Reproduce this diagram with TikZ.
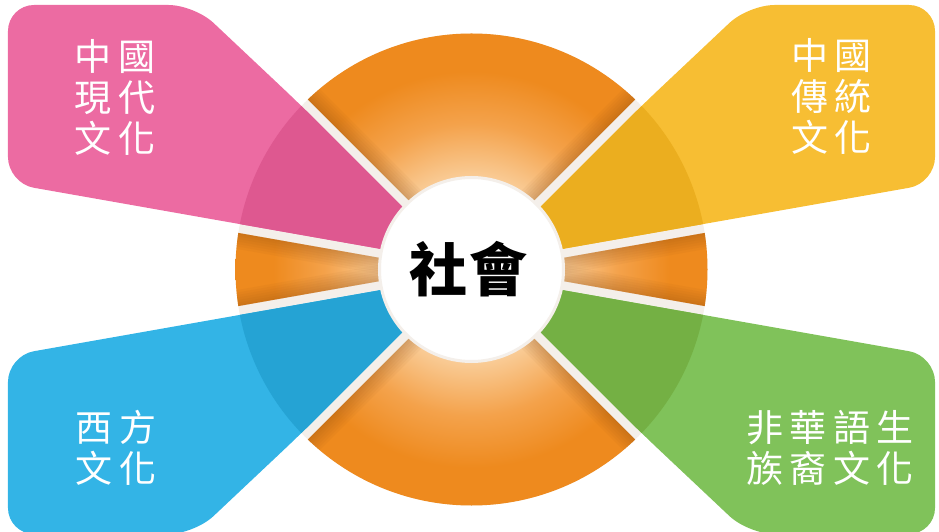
\documentclass[tikz,border=0pt]{standalone}
\usepackage{fontspec}
\newfontfamily\cjk{Noto Sans CJK TC}
\definecolor{ringor}{HTML}{EE8A1E}
\definecolor{midor}{HTML}{F4A24B}
\definecolor{peach}{HTML}{F9CB95}
\definecolor{gapc}{HTML}{F4EFEA}
\definecolor{pinkL}{HTML}{EC6BA2}
\definecolor{pinkD}{HTML}{DE5890}
\definecolor{yelL}{HTML}{F7BE33}
\definecolor{yelD}{HTML}{EBAE1F}
\definecolor{bluL}{HTML}{33B4E6}
\definecolor{bluD}{HTML}{25A3D4}
\definecolor{grnL}{HTML}{80C25A}
\definecolor{grnD}{HTML}{74B044}
\definecolor{shadowbr}{HTML}{8A4A12}
\pgfdeclareradialshading{ringshade}{\pgfpoint{0bp}{0bp}}{color(0bp)=(peach); color(9.9bp)=(peach); color(15.5bp)=(midor); color(21bp)=(ringor); color(25bp)=(ringor); color(50bp)=(ringor)}
\newcommand\kk{\hspace{6.5pt}}
\newcommand\petalpath{(-42.8,12.1) -- (-34.5,28.1) -- (-170,163.7) -- (-277,264.5) -- (-463.5,264.5) -- (-463.5,86.3) -- cycle}
\newcommand\orsector[4]{% apex x, apex y, a1, a2
  \begin{scope}
    \clip (0,0) circle (236);
    \clip[shift={(#1,#2)}] (0,0) -- (#3:400) -- ({(#3+#4)/2}:500) -- (#4:400) -- cycle;
    \shade[shading=ringshade] (0,0) circle (236);
    \foreach \w in {32,27,22,17,12,7,3}{
      \draw[edgeshade,line width=\w,shift={(#1,#2)}] (0,0) -- (#3:300);
      \draw[edgeshade,line width=\w,shift={(#1,#2)}] (0,0) -- (#4:300);
    }
  \end{scope}}
\newcommand\petal[3]{% transform, light, dark
  \begin{scope}[#1]
    \fill[#2,rounded corners=26] \petalpath;
    \begin{scope}
      \clip[rounded corners=26] \petalpath;
      \fill[#3] (0,0) circle (236);
    \end{scope}
  \end{scope}}
\begin{document}
\begin{tikzpicture}[x=1pt,y=1pt,
  labeltext/.style={text=white,align=center,font=\cjk\fontsize{37}{41}\selectfont,inner sep=0pt},
  edgeshade/.style={draw=shadowbr,opacity=0.05,line cap=butt}]
\useasboundingbox (-471.5,-262.5) rectangle (467.5,269.5);
\fill[gapc] (0,0) circle (236);
\orsector{0}{6.36}{45}{135}
\orsector{0}{-6.36}{225}{315}
\orsector{-25.9}{0}{170}{190}
\orsector{25.9}{0}{-10}{10}
\petal{}{pinkL}{pinkD}
\petal{xscale=-1}{yelL}{yelD}
\petal{yscale=-1}{bluL}{bluD}
\petal{xscale=-1,yscale=-1}{grnL}{grnD}
\node[circle,fill=white,draw=gapc,line width=3,minimum size=184,inner sep=0pt] (ctr) at (0,0) {};
\node[font=\cjk\bfseries\fontsize{58}{58}\selectfont,inner sep=0pt] (soc) at (-2.5,0) {社\hspace{2pt}會};
\node[labeltext] (lpink) at (-356.5,172.5) {中\kk 國\\現\kk 代\\文\kk 化};
\node[labeltext] (lyel) at (360,173) {中\kk 國\\傳\kk 統\\文\kk 化};
\node[labeltext] (lblu) at (-355.5,-178) {西\kk 方\\文\kk 化};
\node[labeltext] (lgrn) at (358.5,-178) {非\kk 華\kk 語\kk 生\\族\kk 裔\kk 文\kk 化};
\end{tikzpicture}
\end{document}
